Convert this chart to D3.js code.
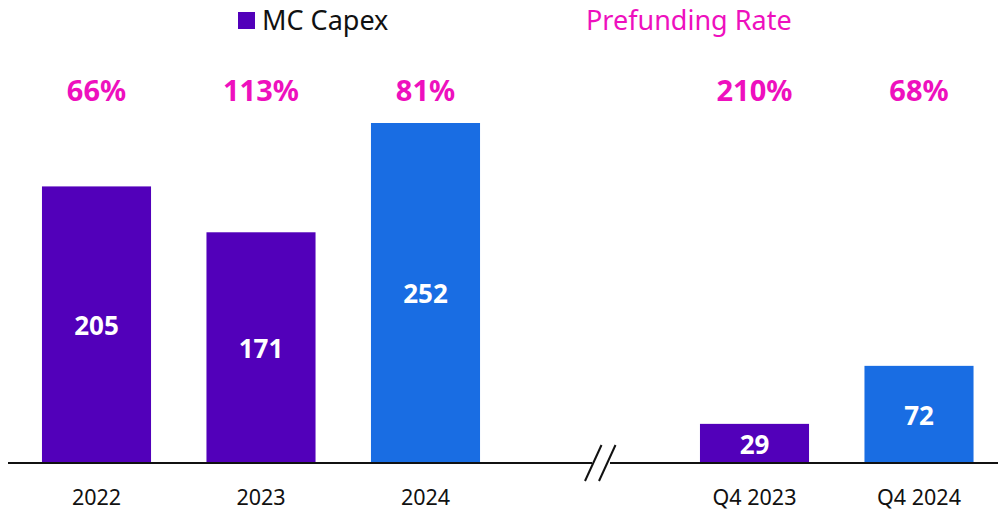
<!DOCTYPE html>
<html><head><meta charset="utf-8">
<script src="https://cdn.jsdelivr.net/npm/d3@7"></script>
<style>body{margin:0;background:#fff}svg{display:block}text{font-family:"Noto Sans","Open Sans",sans-serif}</style>
</head><body><svg id="c" width="998" height="513"></svg>
<script>
const categories = ["2022","2023","2024","","Q4 2023","Q4 2024"];
const capex = [205,171,252,null,29,72];
const rates = ["66%","113%","81%",null,"210%","68%"];
const colors = ["#5200BA","#5200BA","#196DE3",null,"#5200BA","#196DE3"];
const svg = d3.select("#c");
const baseY = 463;
const x = d3.scaleBand().domain(d3.range(categories.length)).range([14.25,1001.25]).paddingInner(0.337).paddingOuter(0.1685);
const y = d3.scaleLinear().domain([0,252]).range([baseY, baseY-340]);
const data = categories.map((c,i)=>({c,v:capex[i],r:rates[i],col:colors[i],i})).filter(d=>d.v!=null);
svg.selectAll("rect.bar").data(data).join("rect").attr("class","bar")
  .attr("x",d=>x(d.i)).attr("width",x.bandwidth()).attr("y",d=>y(d.v)).attr("height",d=>baseY-y(d.v)).attr("fill",d=>d.col);
svg.selectAll("text.val").data(data).join("text").attr("class","val")
  .attr("x",d=>x(d.i)+x.bandwidth()/2).attr("y",d=>(y(d.v)+baseY)/2+1).attr("dy","0.35em")
  .attr("text-anchor","middle").attr("fill","#fff").attr("font-weight","bold").attr("font-size",26).text(d=>d.v);
svg.selectAll("text.rate").data(data).join("text").attr("class","rate")
  .attr("x",d=>x(d.i)+x.bandwidth()/2).attr("y",91).attr("dy","0.35em")
  .attr("text-anchor","middle").attr("fill","#EE10BE").attr("font-weight","bold").attr("font-size",29).text(d=>d.r);
svg.selectAll("text.cat").data(data).join("text").attr("class","cat")
  .attr("x",d=>x(d.i)+x.bandwidth()/2).attr("y",497).attr("dy","0.35em")
  .attr("text-anchor","middle").attr("fill","#111").attr("font-size",21.5).text(d=>d.c);
// axis with break
const ax = svg.append("g").attr("stroke","#111").attr("stroke-width",2);
ax.append("line").attr("x1",8).attr("x2",592).attr("y1",baseY).attr("y2",baseY);
ax.append("line").attr("x1",610).attr("x2",998).attr("y1",baseY).attr("y2",baseY);
ax.append("line").attr("x1",585).attr("y1",481).attr("x2",601.5).attr("y2",445);
ax.append("line").attr("x1",599).attr("y1",481).attr("x2",615.5).attr("y2",445);
// legend
svg.append("rect").attr("x",238).attr("y",12).attr("width",17).attr("height",17).attr("fill","#5200BA");
svg.append("text").attr("x",262).attr("y",21).attr("dy","0.35em").attr("font-size",27).attr("fill","#111").text("MC Capex");
svg.append("text").attr("x",586).attr("y",21).attr("dy","0.35em").attr("font-size",27).attr("fill","#EE10BE").text("Prefunding Rate");
</script></body></html>
